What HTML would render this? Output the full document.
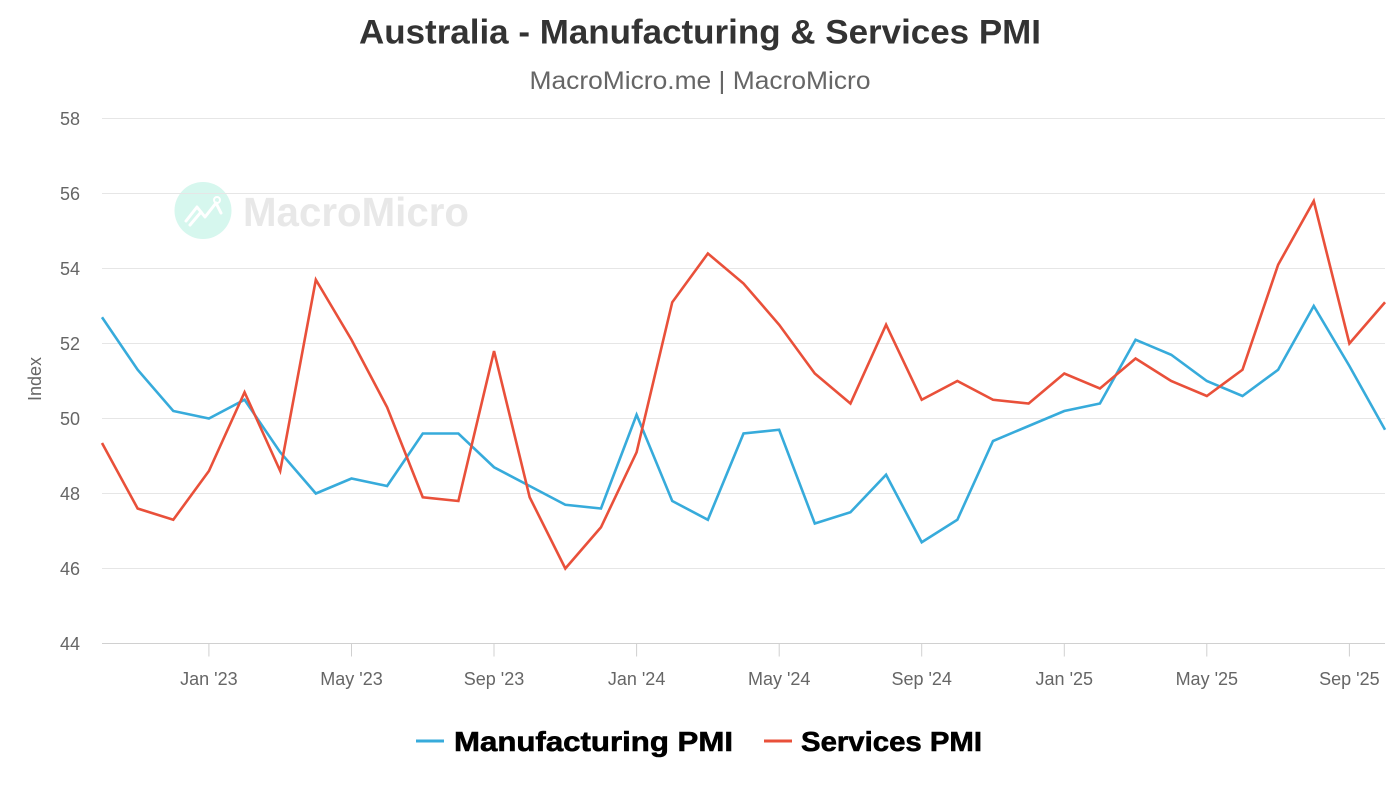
<!DOCTYPE html>
<html>
<head>
<meta charset="utf-8">
<style>
html,body{margin:0;padding:0;background:#fff;}
svg{display:block;}
text{font-family:"Liberation Sans",sans-serif;}
</style>
</head>
<body>
<svg width="1400" height="787" viewBox="0 0 1400 787" xmlns="http://www.w3.org/2000/svg">
<rect width="1400" height="787" fill="#fff"/>
<!-- Title -->
<text x="700" y="43.5" text-anchor="middle" font-size="34" font-weight="bold" fill="#333" textLength="682" lengthAdjust="spacingAndGlyphs">Australia - Manufacturing &amp; Services PMI</text>
<text x="700" y="89" text-anchor="middle" font-size="25" fill="#666" textLength="341" lengthAdjust="spacingAndGlyphs">MacroMicro.me | MacroMicro</text>

<!-- Watermark -->
<circle cx="203" cy="210.5" r="28.5" fill="#d6f7ee"/>
<polyline points="186,221 197,207 205,217 216,203 221,213" fill="none" stroke="#fff" stroke-width="3" stroke-linejoin="round" stroke-linecap="round"/>
<polyline points="190,225 201,212" fill="none" stroke="#fff" stroke-width="3" stroke-linecap="round"/>
<circle cx="217" cy="200" r="3" fill="none" stroke="#fff" stroke-width="2"/>
<text x="243" y="226" font-size="41" font-weight="bold" fill="#e8e8e8" textLength="226" lengthAdjust="spacingAndGlyphs">MacroMicro</text>

<!-- Gridlines -->
<g stroke="#e6e6e6" stroke-width="1">
<line x1="102" x2="1385" y1="118.5" y2="118.5"/>
<line x1="102" x2="1385" y1="193.5" y2="193.5"/>
<line x1="102" x2="1385" y1="268.5" y2="268.5"/>
<line x1="102" x2="1385" y1="343.5" y2="343.5"/>
<line x1="102" x2="1385" y1="418.5" y2="418.5"/>
<line x1="102" x2="1385" y1="493.5" y2="493.5"/>
<line x1="102" x2="1385" y1="568.5" y2="568.5"/>
</g>
<line x1="102" x2="1385" y1="643.5" y2="643.5" stroke="#d0d0d0" stroke-width="1"/>
<!-- ticks -->
<g stroke="#d0d0d0" stroke-width="1">
<line x1="208.9" x2="208.9" y1="643.5" y2="656.5"/>
<line x1="351.5" x2="351.5" y1="643.5" y2="656.5"/>
<line x1="494" x2="494" y1="643.5" y2="656.5"/>
<line x1="636.6" x2="636.6" y1="643.5" y2="656.5"/>
<line x1="779.2" x2="779.2" y1="643.5" y2="656.5"/>
<line x1="921.7" x2="921.7" y1="643.5" y2="656.5"/>
<line x1="1064.3" x2="1064.3" y1="643.5" y2="656.5"/>
<line x1="1206.8" x2="1206.8" y1="643.5" y2="656.5"/>
<line x1="1349.4" x2="1349.4" y1="643.5" y2="656.5"/>
</g>

<!-- Y labels -->
<g font-size="18" fill="#666" text-anchor="end">
<text x="80" y="125">58</text>
<text x="80" y="200">56</text>
<text x="80" y="275">54</text>
<text x="80" y="350">52</text>
<text x="80" y="425">50</text>
<text x="80" y="500">48</text>
<text x="80" y="575">46</text>
<text x="80" y="650">44</text>
</g>
<text x="0" y="0" font-size="18" fill="#666" text-anchor="middle" transform="translate(41,379) rotate(-90)">Index</text>

<!-- X labels -->
<g font-size="18" fill="#666" text-anchor="middle">
<text x="208.9" y="685">Jan '23</text>
<text x="351.5" y="685">May '23</text>
<text x="494" y="685">Sep '23</text>
<text x="636.6" y="685">Jan '24</text>
<text x="779.2" y="685">May '24</text>
<text x="921.7" y="685">Sep '24</text>
<text x="1064.3" y="685">Jan '25</text>
<text x="1206.8" y="685">May '25</text>
<text x="1349.4" y="685">Sep '25</text>
</g>

<!-- Series -->
<polyline fill="none" stroke="#37abdb" stroke-width="2.6" stroke-linejoin="miter" points="102,317.25 137.64,369.75 173.28,411 208.92,418.5 244.56,399.75 280.2,452.25 315.84,493.5 351.48,478.5 387.12,486 422.76,433.5 458.4,433.5 494.04,467.25 529.68,486 565.32,504.75 600.96,508.5 636.6,414.75 672.24,501 707.88,519.75 743.52,433.5 779.16,429.75 814.8,523.5 850.44,512.25 886.08,474.75 921.72,542.25 957.36,519.75 993,441 1028.64,426 1064.28,411 1099.92,403.5 1135.56,339.75 1171.2,354.75 1206.84,381 1242.48,396 1278.12,369.75 1313.76,306 1349.4,366 1385.04,429.75"/>
<polyline fill="none" stroke="#e9503a" stroke-width="2.6" stroke-linejoin="miter" points="102,443 137.64,508.5 173.28,519.75 208.92,471 244.56,392.25 280.2,471 315.84,279.75 351.48,339.75 387.12,407.25 422.76,497.25 458.4,501 494.04,351 529.68,497.25 565.32,568.5 600.96,527.25 636.6,452.25 672.24,302.25 707.88,253.5 743.52,283.5 779.16,324.75 814.8,373.5 850.44,403.5 886.08,324.75 921.72,399.75 957.36,381 993,399.75 1028.64,403.5 1064.28,373.5 1099.92,388.5 1135.56,358.5 1171.2,381 1206.84,396 1242.48,369.75 1278.12,264.75 1313.76,201 1349.4,343.5 1385.04,302.25"/>

<!-- Legend -->
<line x1="416" x2="444" y1="741" y2="741" stroke="#37abdb" stroke-width="3"/>
<text x="454" y="751" font-size="28" font-weight="bold" fill="#000" stroke="#000" stroke-width="0.6" textLength="279" lengthAdjust="spacingAndGlyphs">Manufacturing PMI</text>
<line x1="764" x2="792" y1="741" y2="741" stroke="#e9503a" stroke-width="3"/>
<text x="801" y="751" font-size="28" font-weight="bold" fill="#000" stroke="#000" stroke-width="0.6" textLength="181" lengthAdjust="spacingAndGlyphs">Services PMI</text>
</svg>
</body>
</html>
